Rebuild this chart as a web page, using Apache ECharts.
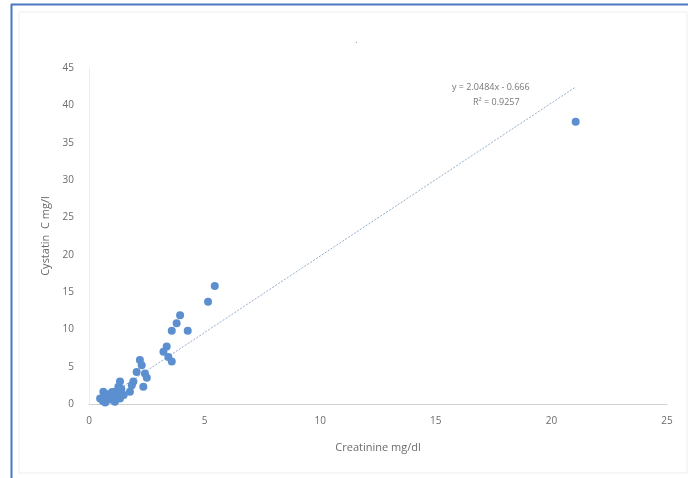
<!DOCTYPE html>
<html>
<head>
<meta charset="utf-8">
<script src="https://cdn.jsdelivr.net/npm/echarts@6/dist/echarts.min.js"></script>
<style>html,body{margin:0;padding:0;background:#fff}#c{width:688px;height:478px}</style>
</head>
<body>
<div id="c"></div>
<script>
// Data
var creatinine = [21.05, 5.44, 5.15, 3.94, 3.79, 3.58, 4.27, 3.36, 3.22, 3.43, 3.58,
  2.2, 2.28, 2.06, 2.42, 2.5, 2.35, 1.85, 1.92, 1.77, 1.34, 1.27, 1.4, 1.12, 0.91,
  0.62, 0.69, 0.48, 0.76, 1.12, 1.34, 1.5, 1.0, 0.8, 1.2, 0.95, 0.7, 1.05, 0.6, 1.25];
var cystatin = [37.8, 15.8, 13.7, 11.9, 10.8, 9.8, 9.8, 7.7, 7.0, 6.3, 5.7,
  5.9, 5.2, 4.3, 4.1, 3.5, 2.3, 2.5, 3.0, 1.65, 3.0, 2.3, 2.0, 1.65, 1.2,
  1.65, 1.0, 0.75, 0.5, 0.3, 0.75, 1.2, 1.6, 1.3, 1.0, 0.6, 0.2, 0.9, 0.4, 1.4];
var trendSlope = 2.0484;
var trendIntercept = -0.666;
var trendLabel = ["y = 2.0484x - 0.666", "R² = 0.9257"];
var xTicks = [0, 5, 10, 15, 20, 25];
var yTicks = [0, 5, 10, 15, 20, 25, 30, 35, 40, 45];

var pts = creatinine.map(function (x, i) { return [x, cystatin[i]]; });
var xmin = Math.min.apply(null, creatinine), xmax = Math.max.apply(null, creatinine);
var trend = [[xmin, trendSlope * xmin + trendIntercept], [xmax, trendSlope * xmax + trendIntercept]];

var txt = '#6b6b6b';
var font = '"Open Sans", "Liberation Sans", sans-serif';
var chart = echarts.init(document.getElementById('c'), null, {renderer: 'canvas'});
chart.setOption({
  backgroundColor: '#fff',
  animation: false,
  title: {text: '.', left: 350, top: 30, textStyle: {color: '#999', fontSize: 10, fontWeight: 'normal'}},
  grid: {left: 89, right: 21, top: 68, bottom: 74},
  xAxis: {
    type: 'value', min: 0, max: 25, interval: 5,
    name: 'Creatinine mg/dl', nameLocation: 'middle', nameGap: 38,
    nameTextStyle: {color: txt, fontSize: 11, fontFamily: font},
    axisLine: {show: true, lineStyle: {color: '#d0d0d0', width: 1}},
    axisTick: {show: false},
    splitLine: {show: false},
    axisLabel: {color: txt, fontSize: 10, fontFamily: font, margin: 12}
  },
  yAxis: {
    type: 'value', min: 0, max: 45, interval: 5,
    name: 'Cystatin  C mg/l', nameLocation: 'middle', nameGap: 37,
    nameTextStyle: {color: txt, fontSize: 11, fontFamily: font},
    axisLine: {show: true, lineStyle: {color: '#ececec', width: 1}},
    axisTick: {show: false},
    splitLine: {show: false},
    axisLabel: {color: txt, fontSize: 10, fontFamily: font, margin: 15}
  },
  series: [
    {
      type: 'line', data: trend, symbol: 'none', silent: true,
      lineStyle: {color: '#94aeca', width: 1, type: [2, 1.5]}, z: 1
    },
    {
      type: 'scatter', data: pts, symbol: 'circle', symbolSize: 8,
      itemStyle: {color: '#5b8fd0', opacity: 1}, z: 2
    }
  ],
  graphic: [
    {type: 'rect', shape: {x: 19, y: 12, width: 668, height: 461}, style: {fill: 'none', stroke: '#ededed', lineWidth: 1}, silent: true},
    {type: 'line', shape: {x1: 11, y1: 4.5, x2: 688, y2: 4.5}, style: {stroke: '#4a78c2', lineWidth: 2}, silent: true},
    {type: 'line', shape: {x1: 11.5, y1: 4, x2: 11.5, y2: 478}, style: {stroke: '#4a78c2', lineWidth: 2}, silent: true},
    {type: 'text', left: 452, top: 83, style: {text: trendLabel[0], fill: '#777', font: '9px ' + font}, silent: true},
    {type: 'text', left: 473, top: 98, style: {text: trendLabel[1], fill: '#777', font: '9px ' + font}, silent: true}
  ]
});
</script>
</body>
</html>
